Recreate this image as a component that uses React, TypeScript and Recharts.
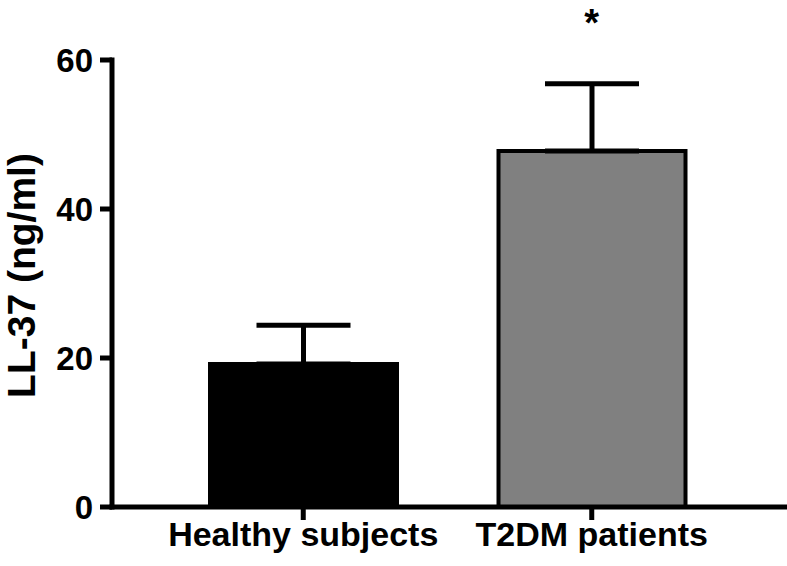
import { BarChart, Bar, Cell, XAxis, YAxis, ErrorBar, ReferenceDot } from "recharts";

const groups = ["Healthy subjects", "T2DM patients"];
const means = [19.2, 47.8];
const sems = [5.2, 9.0];
const yTicks = [0, 20, 40, 60];
// significance marker: which group, and the value it sits at
const starGroup = "T2DM patients";
const starLevel = 66;

const BAR_FILLS = ["#000000", "#808080"];
const FONT = "'Liberation Sans', Arial, Helvetica, sans-serif";

const chartData = groups.map((g, i) => ({
  group: g,
  mean: means[i],
  err: [0, sems[i]],
}));

const YLabel = ({ viewBox }: any) => {
  const x = viewBox.x + 21;
  const y = viewBox.y + viewBox.height / 2 - 8;
  return (
    <text
      x={x}
      y={y}
      transform={`rotate(-90 ${x} ${y})`}
      textAnchor="middle"
      dominantBaseline="central"
      fontFamily={FONT}
      fontWeight="bold"
      fontSize={39}
      fill="#000"
    >
      LL-37 (ng/ml)
    </text>
  );
};

const Star = ({ viewBox }: any) => {
  const cx = viewBox.x + (viewBox.width || 0) / 2;
  const cy = viewBox.y + (viewBox.height || 0) / 2;
  return (
    <text x={cx} y={cy + 21} textAnchor="middle" fontFamily={FONT} fontWeight="bold" fontSize={38} fill="#000">
      *
    </text>
  );
};

export default function App() {
  const axisLine = { stroke: "#000", strokeWidth: 5, strokeLinecap: "square" as const };
  const tickLine = { stroke: "#000", strokeWidth: 5 };

  return (
    <div style={{ position: "absolute", left: 0, top: 0, background: "#fff" }}>
      <BarChart
        width={787}
        height={566}
        data={chartData}
        margin={{ top: 60, right: 2, bottom: 0, left: 0 }}
      >
        <XAxis
          dataKey="group"
          height={59}
          padding={{ left: 47, right: 49 }}
          axisLine={axisLine}
          tickLine={tickLine}
          tickSize={13}
          tickMargin={2}
          tick={{ fontFamily: FONT, fontWeight: "bold", fontSize: 34, fill: "#000" }}
          interval={0}
        />
        <YAxis
          width={112}
          domain={[0, 60]}
          ticks={yTicks}
          axisLine={axisLine}
          tickLine={tickLine}
          tickSize={12}
          tickMargin={7}
          tick={{ fontFamily: FONT, fontWeight: "bold", fontSize: 33, fill: "#000" }}
          label={<YLabel />}
        />
        <Bar dataKey="mean" barSize={187} stroke="#000" strokeWidth={4} isAnimationActive={false}>
          {chartData.map((d, i) => (
            <Cell key={d.group} fill={BAR_FILLS[i]} />
          ))}
          <ErrorBar dataKey="err" direction="y" width={47} stroke="#000" strokeWidth={5} isAnimationActive={false} />
        </Bar>
        <ReferenceDot
          x={starGroup}
          y={starLevel}
          r={0}
          fill="none"
          stroke="none"
          ifOverflow="visible"
          label={<Star />}
        />
      </BarChart>
    </div>
  );
}
